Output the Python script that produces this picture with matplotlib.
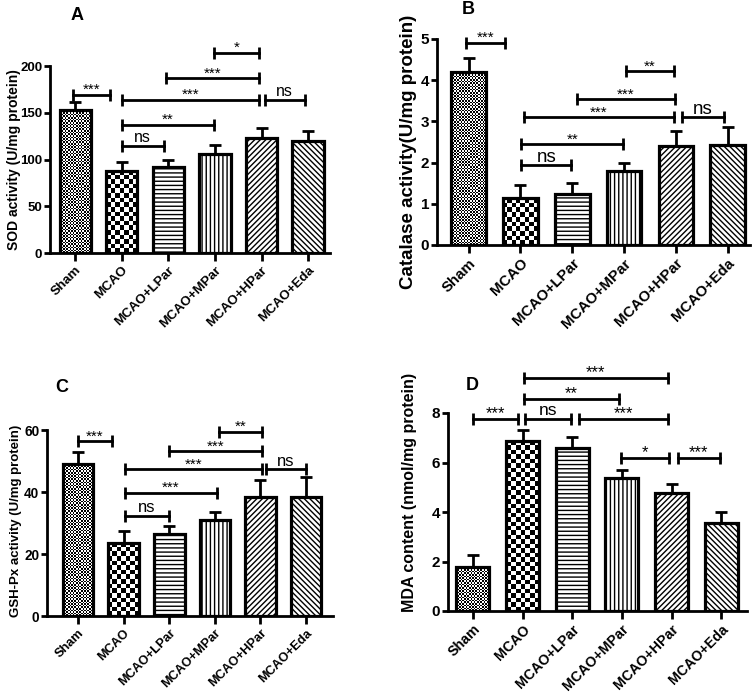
import matplotlib
matplotlib.use('Agg')
import matplotlib.pyplot as plt
import numpy as np

plt.rcParams['font.family'] = ['Liberation Sans', 'DejaVu Sans']
plt.rcParams['hatch.linewidth'] = 1.0

groups = ['Sham', 'MCAO', 'MCAO+LPar', 'MCAO+MPar', 'MCAO+HPar', 'MCAO+Eda']

sod_vals = [153, 88, 92.5, 106, 122.5, 119.5]
sod_errs = [8.5, 9, 7.5, 9.5, 11, 10.5]
cat_vals = [4.21, 1.13, 1.24, 1.80, 2.40, 2.42]
cat_errs = [0.32, 0.32, 0.27, 0.20, 0.37, 0.45]
gsh_vals = [48.9, 23.7, 26.3, 31.1, 38.5, 38.5]
gsh_errs = [4.1, 3.8, 2.7, 2.5, 5.3, 6.2]
mda_vals = [1.78, 6.85, 6.57, 5.37, 4.77, 3.56]
mda_errs = [0.47, 0.45, 0.48, 0.34, 0.35, 0.46]

# brackets: (start, end, height, label)
sod_br = [(-0.05, 0.75, 169.5, '***'), (1.0, 1.9, 114.7, 'ns'), (1.0, 2.97, 137, '**'),
          (1.0, 3.95, 164, '***'), (1.94, 3.95, 187, '***'), (2.99, 3.95, 214, '*'),
          (4.07, 4.93, 164, 'ns')]
cat_br = [(-0.05, 0.71, 4.91, '***'), (1.02, 1.98, 1.93, 'ns'), (1.02, 2.98, 2.45, '**'),
          (1.07, 3.96, 3.10, '***'), (2.09, 3.98, 3.54, '***'), (3.04, 3.96, 4.22, '**'),
          (4.12, 4.92, 3.10, 'ns')]
gsh_br = [(0.0, 0.74, 56.4, '***'), (1.02, 1.99, 32.4, 'ns'), (1.02, 3.04, 39.7, '***'),
          (1.02, 4.03, 47.3, '***'), (1.99, 4.03, 53.2, '***'), (3.08, 4.03, 59.5, '**'),
          (4.12, 5.0, 47.3, 'ns')]
mda_br = [(0.0, 0.91, 7.76, '***'), (1.06, 1.97, 7.76, 'ns'), (1.03, 2.95, 8.58, '**'),
          (1.03, 3.92, 9.42, '***'), (2.14, 3.92, 7.76, '***'), (2.98, 3.95, 6.2, '*'),
          (4.13, 4.97, 6.2, '***')]

hatches = [None, None, '----', '||||', '//////', '\\\\\\\\\\\\']

W, H = 753, 694
fig = plt.figure(figsize=(W / 100, H / 100), dpi=100)


def rect(l, r, t, b):
    return [l / W, 1 - b / H, (r - l) / W, (b - t) / H]


panels = [
    dict(letter='A', ylabel='SOD activity (U/mg protein)', vals=sod_vals, errs=sod_errs,
         br=sod_br, ymax=200, yticks=[0, 50, 100, 150, 200], rect=rect(50, 330, 66, 253),
         xlim=(-0.54, 5.47), lab=(-0.105, 0.5), lfs=10, tfs=9.6, yfs=9.5, nsfs=11.5, asfs=11,
         letpos=(77, 15)),
    dict(letter='B', ylabel='Catalase activity(U/mg protein)', vals=cat_vals, errs=cat_errs,
         br=cat_br, ymax=5, yticks=[0, 1, 2, 3, 4, 5], rect=rect(437, 750, 39, 245),
         xlim=(-0.61, 5.43), lab=(-0.064, 0.45), lfs=13.5, tfs=10.8, yfs=11, nsfs=13.5, asfs=11,
         letpos=(468, 9)),
    dict(letter='C', ylabel='GSH-Px activity (U/mg protein)', vals=gsh_vals, errs=gsh_errs,
         br=gsh_br, ymax=60, yticks=[0, 20, 40, 60], rect=rect(47, 333, 430, 616),
         xlim=(-0.68, 5.59), lab=(-0.087, 0.51), lfs=9.5, tfs=9.2, yfs=9.8, nsfs=12, asfs=11,
         letpos=(62, 387)),
    dict(letter='D', ylabel='MDA content (nmol/mg protein)', vals=mda_vals, errs=mda_errs,
         br=mda_br, ymax=8, yticks=[0, 2, 4, 6, 8], rect=rect(448, 747, 413, 611),
         xlim=(-0.5, 5.52), lab=(-0.104, 0.6), lfs=11.5, tfs=10.2, yfs=11, nsfs=12.5, asfs=12,
         letpos=(472, 385)),
]


def checker_fill(ax, patch, cell_px):
    x0, y0 = patch.get_x(), patch.get_y()
    w, h = patch.get_width(), patch.get_height()
    p0 = ax.transData.transform((x0, y0))
    p1 = ax.transData.transform((x0 + w, y0 + h))
    nx = max(1, int(round((p1[0] - p0[0]) / cell_px)))
    ny = max(1, int(round((p1[1] - p0[1]) / cell_px)))
    arr = np.add.outer(np.arange(ny), np.arange(nx)) % 2
    im = ax.imshow(arr, cmap='gray', extent=(x0, x0 + w, y0, y0 + h), origin='lower',
                   interpolation='nearest', aspect='auto', zorder=1.5)
    im.set_clip_path(patch)


for p in panels:
    ax = fig.add_axes(p['rect'])
    x = np.arange(len(groups))
    ax.set_xlim(*p['xlim'])
    ax.set_ylim(0, p['ymax'])
    bars = ax.bar(x, p['vals'], width=0.67, edgecolor='black', linewidth=2.3, zorder=2)
    for i, b in enumerate(bars):
        if hatches[i] is None:
            b.set_facecolor('none')
        else:
            b.set_facecolor('white')
            b.set_hatch(hatches[i])
    checker_fill(ax, bars[0], 1.6)
    checker_fill(ax, bars[1], 4.5)
    ax.set_xlim(*p['xlim'])
    ax.set_ylim(0, p['ymax'])
    ax.errorbar(x, p['vals'], yerr=[np.zeros(len(x)), p['errs']], fmt='none', ecolor='black',
                elinewidth=2, capsize=4.5, capthick=2, zorder=3)
    for (a, bb, yv, lab) in p['br']:
        ax.plot([a, bb], [yv, yv], color='black', lw=2, marker='|', ms=9, mew=2,
                clip_on=False, zorder=4)
        if lab == 'ns':
            ax.annotate(lab, ((a + bb) / 2, yv), xytext=(0, 2.5), textcoords='offset points',
                        ha='center', va='baseline', fontsize=p['nsfs'], annotation_clip=False)
        else:
            ax.annotate(lab, ((a + bb) / 2, yv), xytext=(0, 0.5), textcoords='offset points',
                        ha='center', va='baseline', fontsize=p['asfs'], annotation_clip=False)
    for s in ['top', 'right']:
        ax.spines[s].set_visible(False)
    for s in ['left', 'bottom']:
        ax.spines[s].set_linewidth(2)
    ax.set_yticks(p['yticks'])
    ax.set_xticks(x)
    ax.set_xticklabels(groups, rotation=45, ha='right', rotation_mode='anchor',
                       fontweight='bold', fontsize=p['tfs'])
    for t in ax.get_yticklabels():
        t.set_fontweight('bold')
        t.set_fontsize(p['yfs'])
    ax.tick_params(axis='x', direction='out', length=6, width=2, pad=2)
    ax.tick_params(axis='y', direction='out', length=4, width=2, pad=1.5)
    ax.set_ylabel(p['ylabel'], fontsize=p['lfs'], fontweight='bold')
    ax.yaxis.set_label_coords(*p['lab'])
    fig.text(p['letpos'][0] / W, 1 - p['letpos'][1] / H, p['letter'], fontsize=13,
             fontweight='bold', ha='center', va='center')

fig.savefig('out.png', dpi=100)
